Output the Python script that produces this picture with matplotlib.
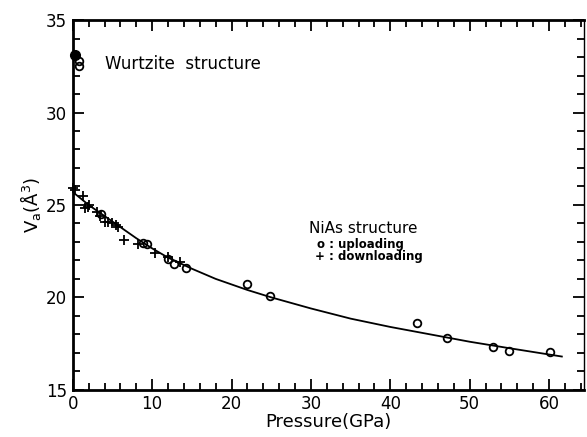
import matplotlib
matplotlib.use('Agg')
import matplotlib.pyplot as plt
from matplotlib.ticker import MultipleLocator

# uploading (open circles)
up_p = [0.8, 0.8, 3.5, 8.8, 9.3, 12.0, 12.8, 14.2, 22.0, 24.8, 43.3, 47.1, 52.9, 54.9, 60.1]
up_v = [32.8, 32.5, 24.5, 22.95, 22.9, 22.1, 21.8, 21.6, 20.7, 20.05, 18.6, 17.8, 17.3, 17.1, 17.05]

# wurtzite filled point
wz_p = [0.3]
wz_v = [33.1]

# downloading (plus)
dn_p = [0.0, 0.25, 1.3, 1.5, 1.9, 2.1, 3.0, 3.4, 4.0, 4.4, 5.0, 5.5, 5.7, 6.5, 8.2, 10.3, 12.0, 13.5]
dn_v = [25.9, 25.8, 25.5, 24.85, 24.9, 25.0, 24.6, 24.4, 24.1, 24.1, 24.0, 23.9, 23.8, 23.1, 22.9, 22.4, 22.2, 21.9]

# fitted curve
fit_p = [0, 2, 4, 6, 8, 10, 12, 15, 18, 22, 25, 30, 35, 40, 45, 50, 55, 61.6]
fit_v = [25.7, 25.0, 24.4, 23.8, 23.2, 22.65, 22.15, 21.55, 21.0, 20.4, 20.0, 19.4,
         18.85, 18.4, 18.0, 17.6, 17.25, 16.8]

fig = plt.figure(figsize=(5.87, 4.37), dpi=100)
ax = fig.add_axes([0.124, 0.108, 0.871, 0.846])

ax.plot(fit_p, fit_v, color='black', lw=1.3)
ax.plot(up_p, up_v, 'o', mfc='none', mec='black', ms=5.5, mew=1.3, clip_on=False)
ax.plot(wz_p, wz_v, 'o', color='black', ms=7, clip_on=False)
ax.plot(dn_p, dn_v, '+', color='black', ms=7, mew=1.3, clip_on=False)

ax.set_xlim(0, 64.4)
ax.set_ylim(15, 35)
ax.xaxis.set_major_locator(MultipleLocator(10))
ax.xaxis.set_minor_locator(MultipleLocator(2))
ax.yaxis.set_major_locator(MultipleLocator(5))
ax.yaxis.set_minor_locator(MultipleLocator(1))
ax.tick_params(which='both', direction='in', top=True, right=True, labelsize=12, width=1.3)
ax.tick_params(which='major', length=8, pad=4)
ax.tick_params(which='minor', length=5)
for s in ax.spines.values():
    s.set_linewidth(2)
ax.spines['right'].set_linewidth(1)

ax.set_xlabel('Pressure(GPa)', fontsize=13, labelpad=0)
ax.set_ylabel(r'V$_{\rm a}$(Å$^{3}$)', fontsize=13, labelpad=2)

ax.text(4.0, 32.6, 'Wurtzite  structure', fontsize=12, va='center')
ax.text(29.8, 23.75, 'NiAs structure', fontsize=11, va='center')
ax.text(30.7, 22.85, 'o : uploading', fontsize=8.5, va='center', fontweight='bold')
ax.text(30.5, 22.2, '+ : downloading', fontsize=8.5, va='center', fontweight='bold')

plt.savefig('out.png', dpi=100)
